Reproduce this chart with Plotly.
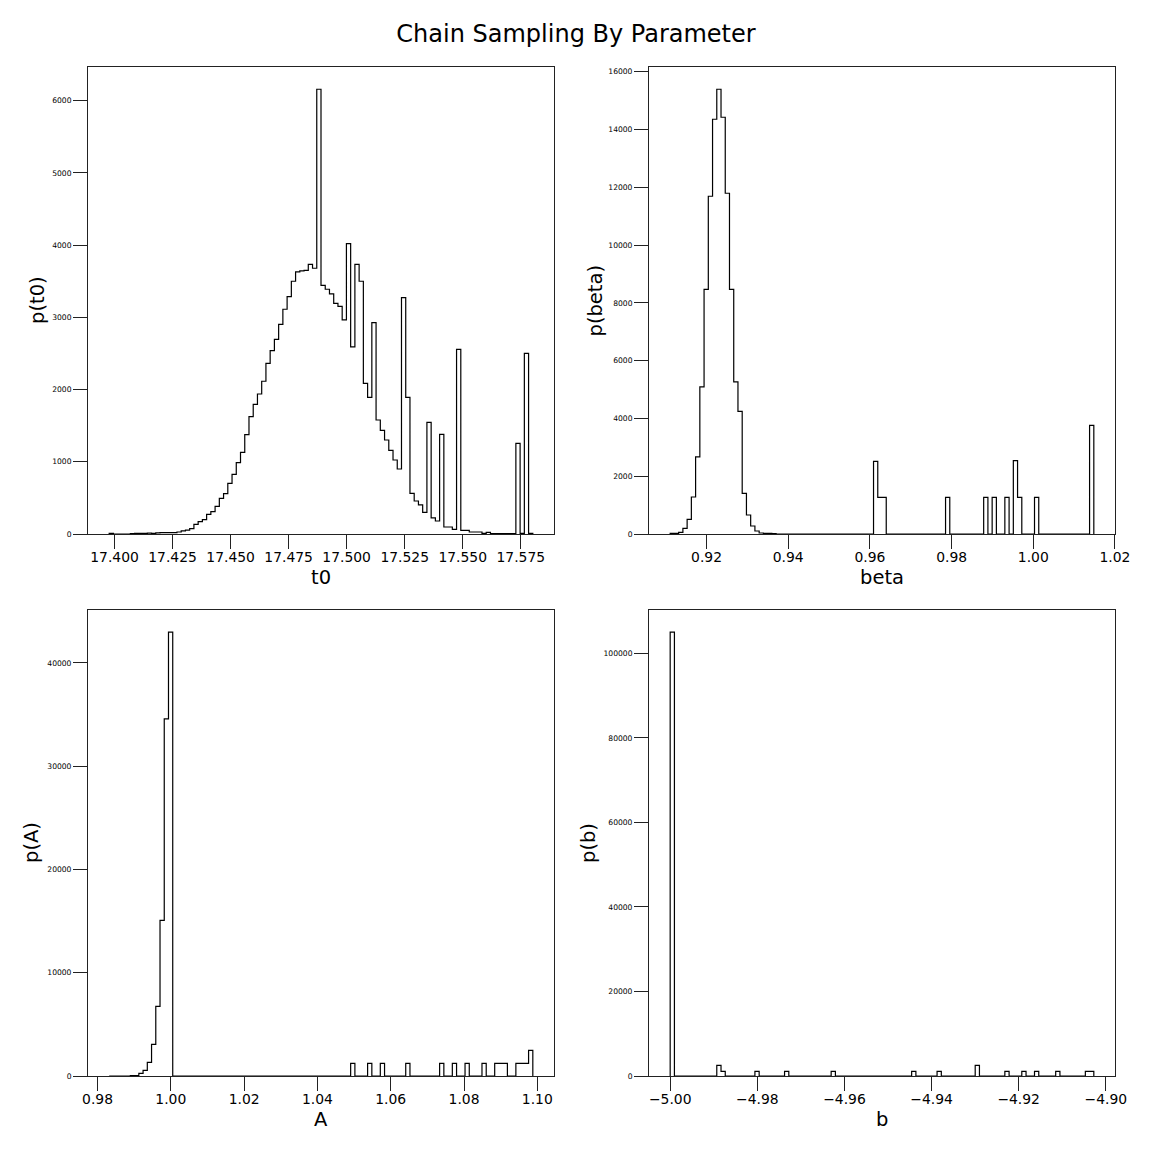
import plotly.graph_objects as go

# ---------------- data (histogram bins) ----------------
t0_start = 17.3977
t0_width = 0.001825
t0_counts = [
    9, 0, 0, 0, 0, 5, 8, 10, 10, 12, 10, 15, 18, 18, 18, 18, 28, 42, 55, 74,
    134, 171, 199, 272, 309, 383, 494, 559, 702, 826, 988, 1131, 1376, 1625, 1796, 1939, 2115, 2364, 2539, 2696,
    2904, 3112, 3287, 3500, 3629, 3643, 3652, 3735, 3680, 6159, 3444, 3389, 3324, 3195, 3153, 2964, 4021, 2590, 3735, 3500,
    2087, 1893, 2927, 1579, 1436, 1302, 1159, 1025, 900, 3273, 1893, 563, 457, 402, 300, 1547, 222, 180, 1380, 97,
    97, 65, 2558, 51, 51, 28, 28, 28, 9, 23, 5, 5, 5, 5, 5, 5, 1256, 9, 2502, 9,
]

beta_start = 0.91109
beta_width = 0.0010373
beta_counts = [
    20, 20, 58, 196, 508, 1281, 2666, 5089, 8470, 11690, 14356, 15394, 14425, 11794, 8470, 5262, 4247, 1408, 658, 277,
    104, 35, 20, 20, 15, 0, 0, 0, 0, 0, 0, 0, 0, 0, 0, 0, 0, 0, 0, 0,
    0, 0, 0, 0, 0, 0, 0, 0, 2516, 1269, 1269, 0, 0, 0, 0, 0, 0, 0, 0, 0,
    0, 0, 0, 0, 0, 1269, 0, 0, 0, 0, 0, 0, 0, 0, 1269, 0, 1269, 0, 0, 1269,
    0, 2539, 1269, 0, 0, 0, 1269, 0, 0, 0, 0, 0, 0, 0, 0, 0, 0, 0, 0, 3762,
]

A_start = 0.98318
A_width = 0.0011559
A_counts = [
    0, 0, 0, 0, 0, 50, 50, 258, 549, 1324, 3068, 6749, 15080, 34583, 42978, 0, 0, 0, 0, 0,
    0, 0, 0, 0, 0, 0, 0, 0, 0, 0, 0, 0, 0, 0, 0, 0, 0, 0, 0, 0,
    0, 0, 0, 0, 0, 0, 0, 0, 0, 0, 0, 0, 0, 0, 0, 0, 0, 1227, 0, 0,
    0, 1227, 0, 0, 1227, 0, 0, 0, 0, 0, 1227, 0, 0, 0, 0, 0, 0, 0, 1227, 0,
    0, 1227, 0, 0, 1227, 0, 0, 0, 1227, 0, 0, 1227, 1227, 1227, 0, 0, 1227, 1227, 1227, 2486,
]

b_start = -5.0
b_width = 0.0009725
b_counts = [
    105016, 0, 0, 0, 0, 0, 0, 0, 0, 0, 0, 2525, 1105, 0, 0, 0, 0, 0, 0, 0,
    1105, 0, 0, 0, 0, 0, 0, 1105, 0, 0, 0, 0, 0, 0, 0, 0, 0, 0, 1105, 0,
    0, 0, 0, 0, 0, 0, 0, 0, 0, 0, 0, 0, 0, 0, 0, 0, 0, 1105, 0, 0,
    0, 0, 0, 1105, 0, 0, 0, 0, 0, 0, 0, 0, 2525, 0, 0, 0, 0, 0, 0, 1105,
    0, 0, 0, 1105, 0, 0, 1105, 0, 0, 0, 0, 1105, 0, 0, 0, 0, 0, 0, 1105, 1105,
]

panel_names = ["t0", "beta", "A", "b"]
x_tick_formats = [".3f", ".2f", ".2f", ".2f"]
x_dticks = [0.025, 0.02, 0.02, 0.02]
y_dticks = [1000, 2000, 10000, 20000]
title_text = "Chain Sampling By Parameter"

# ---------------- layout geometry (pixels in a 1152 x 1152 figure) ----------------
W = H = 1152
col_px = [(88, 554), (649, 1115)]
row_px = [(67, 534), (610, 1076)]
FONT = "DejaVu Sans"


def step_xy(start, width, counts):
    n = len(counts)
    edges = [start + width * i for i in range(n + 1)]
    xs = [edges[0]] + edges[:-1] + [edges[-1]]
    ys = [0] + list(counts) + [0]
    return xs, ys, edges


fig = go.Figure()
datasets = [
    (t0_start, t0_width, t0_counts),
    (beta_start, beta_width, beta_counts),
    (A_start, A_width, A_counts),
    (b_start, b_width, b_counts),
]

annotations = []
for i, (start, width, counts) in enumerate(datasets):
    r, c = divmod(i, 2)
    ax_suffix = "" if i == 0 else str(i + 1)
    xs, ys, edges = step_xy(start, width, counts)
    fig.add_trace(go.Scatter(
        x=xs, y=ys, mode="lines", line=dict(shape="hv", color="black", width=1.2),
        xaxis="x" + ax_suffix, yaxis="y" + ax_suffix, showlegend=False, hoverinfo="skip",
    ))
    span = edges[-1] - edges[0]
    xr = [edges[0] - 0.05 * span, edges[-1] + 0.05 * span]
    yr = [0, max(counts) * 1.05]
    x0p, x1p = col_px[c]
    y0p, y1p = row_px[r]
    common = dict(
        showline=True, linecolor="#222", linewidth=1, mirror=True,
        ticks="outside", ticklen=14, tickwidth=1, tickcolor="#222",
        showgrid=False, zeroline=False, automargin=False,
    )
    fig.layout["xaxis" + ax_suffix] = dict(
        domain=[x0p / W, x1p / W], range=xr, anchor="y" + ax_suffix,
        tickformat=x_tick_formats[i], dtick=x_dticks[i], tick0=0,
        ticklabelstandoff=-4,
        tickfont=dict(family=FONT, size=13.9, color="black"), **common,
    )
    fig.layout["yaxis" + ax_suffix] = dict(
        domain=[1 - y1p / H, 1 - y0p / H], range=yr, anchor="x" + ax_suffix,
        tickformat="d", dtick=y_dticks[i], tick0=0,
        tickfont=dict(family=FONT, size=7.6, color="black"), **common,
    )
    # axis titles
    xc = (x0p + x1p) / 2
    annotations.append(dict(
        text=panel_names[i], xref="paper", yref="paper",
        x=xc / W, y=1 - (y1p + 43) / H, xanchor="center", yanchor="middle",
        showarrow=False, font=dict(family=FONT, size=19.5, color="black"),
    ))
    ylab_x = [37.5, 595, 31, 588][i]
    annotations.append(dict(
        text="p(" + panel_names[i] + ")", xref="paper", yref="paper",
        x=ylab_x / W, y=1 - ((y0p + y1p) / 2) / H, xanchor="center", yanchor="middle",
        textangle=-90, showarrow=False, font=dict(family=FONT, size=19.5, color="black"),
    ))

fig.update_layout(
    width=W, height=H, autosize=False,
    margin=dict(l=0, r=0, t=0, b=0, pad=0, autoexpand=False),
    paper_bgcolor="white", plot_bgcolor="white",
    title=dict(text=title_text, x=0.5, xanchor="center", y=1 - 34 / H, yanchor="middle",
               font=dict(family=FONT, size=24, color="black")),
    annotations=annotations,
    showlegend=False,
)

fig.write_html(
    "out.html",
    config={"responsive": False, "displayModeBar": False},
    post_script="document.body.style.margin='0';document.body.style.overflow='hidden';",
)
